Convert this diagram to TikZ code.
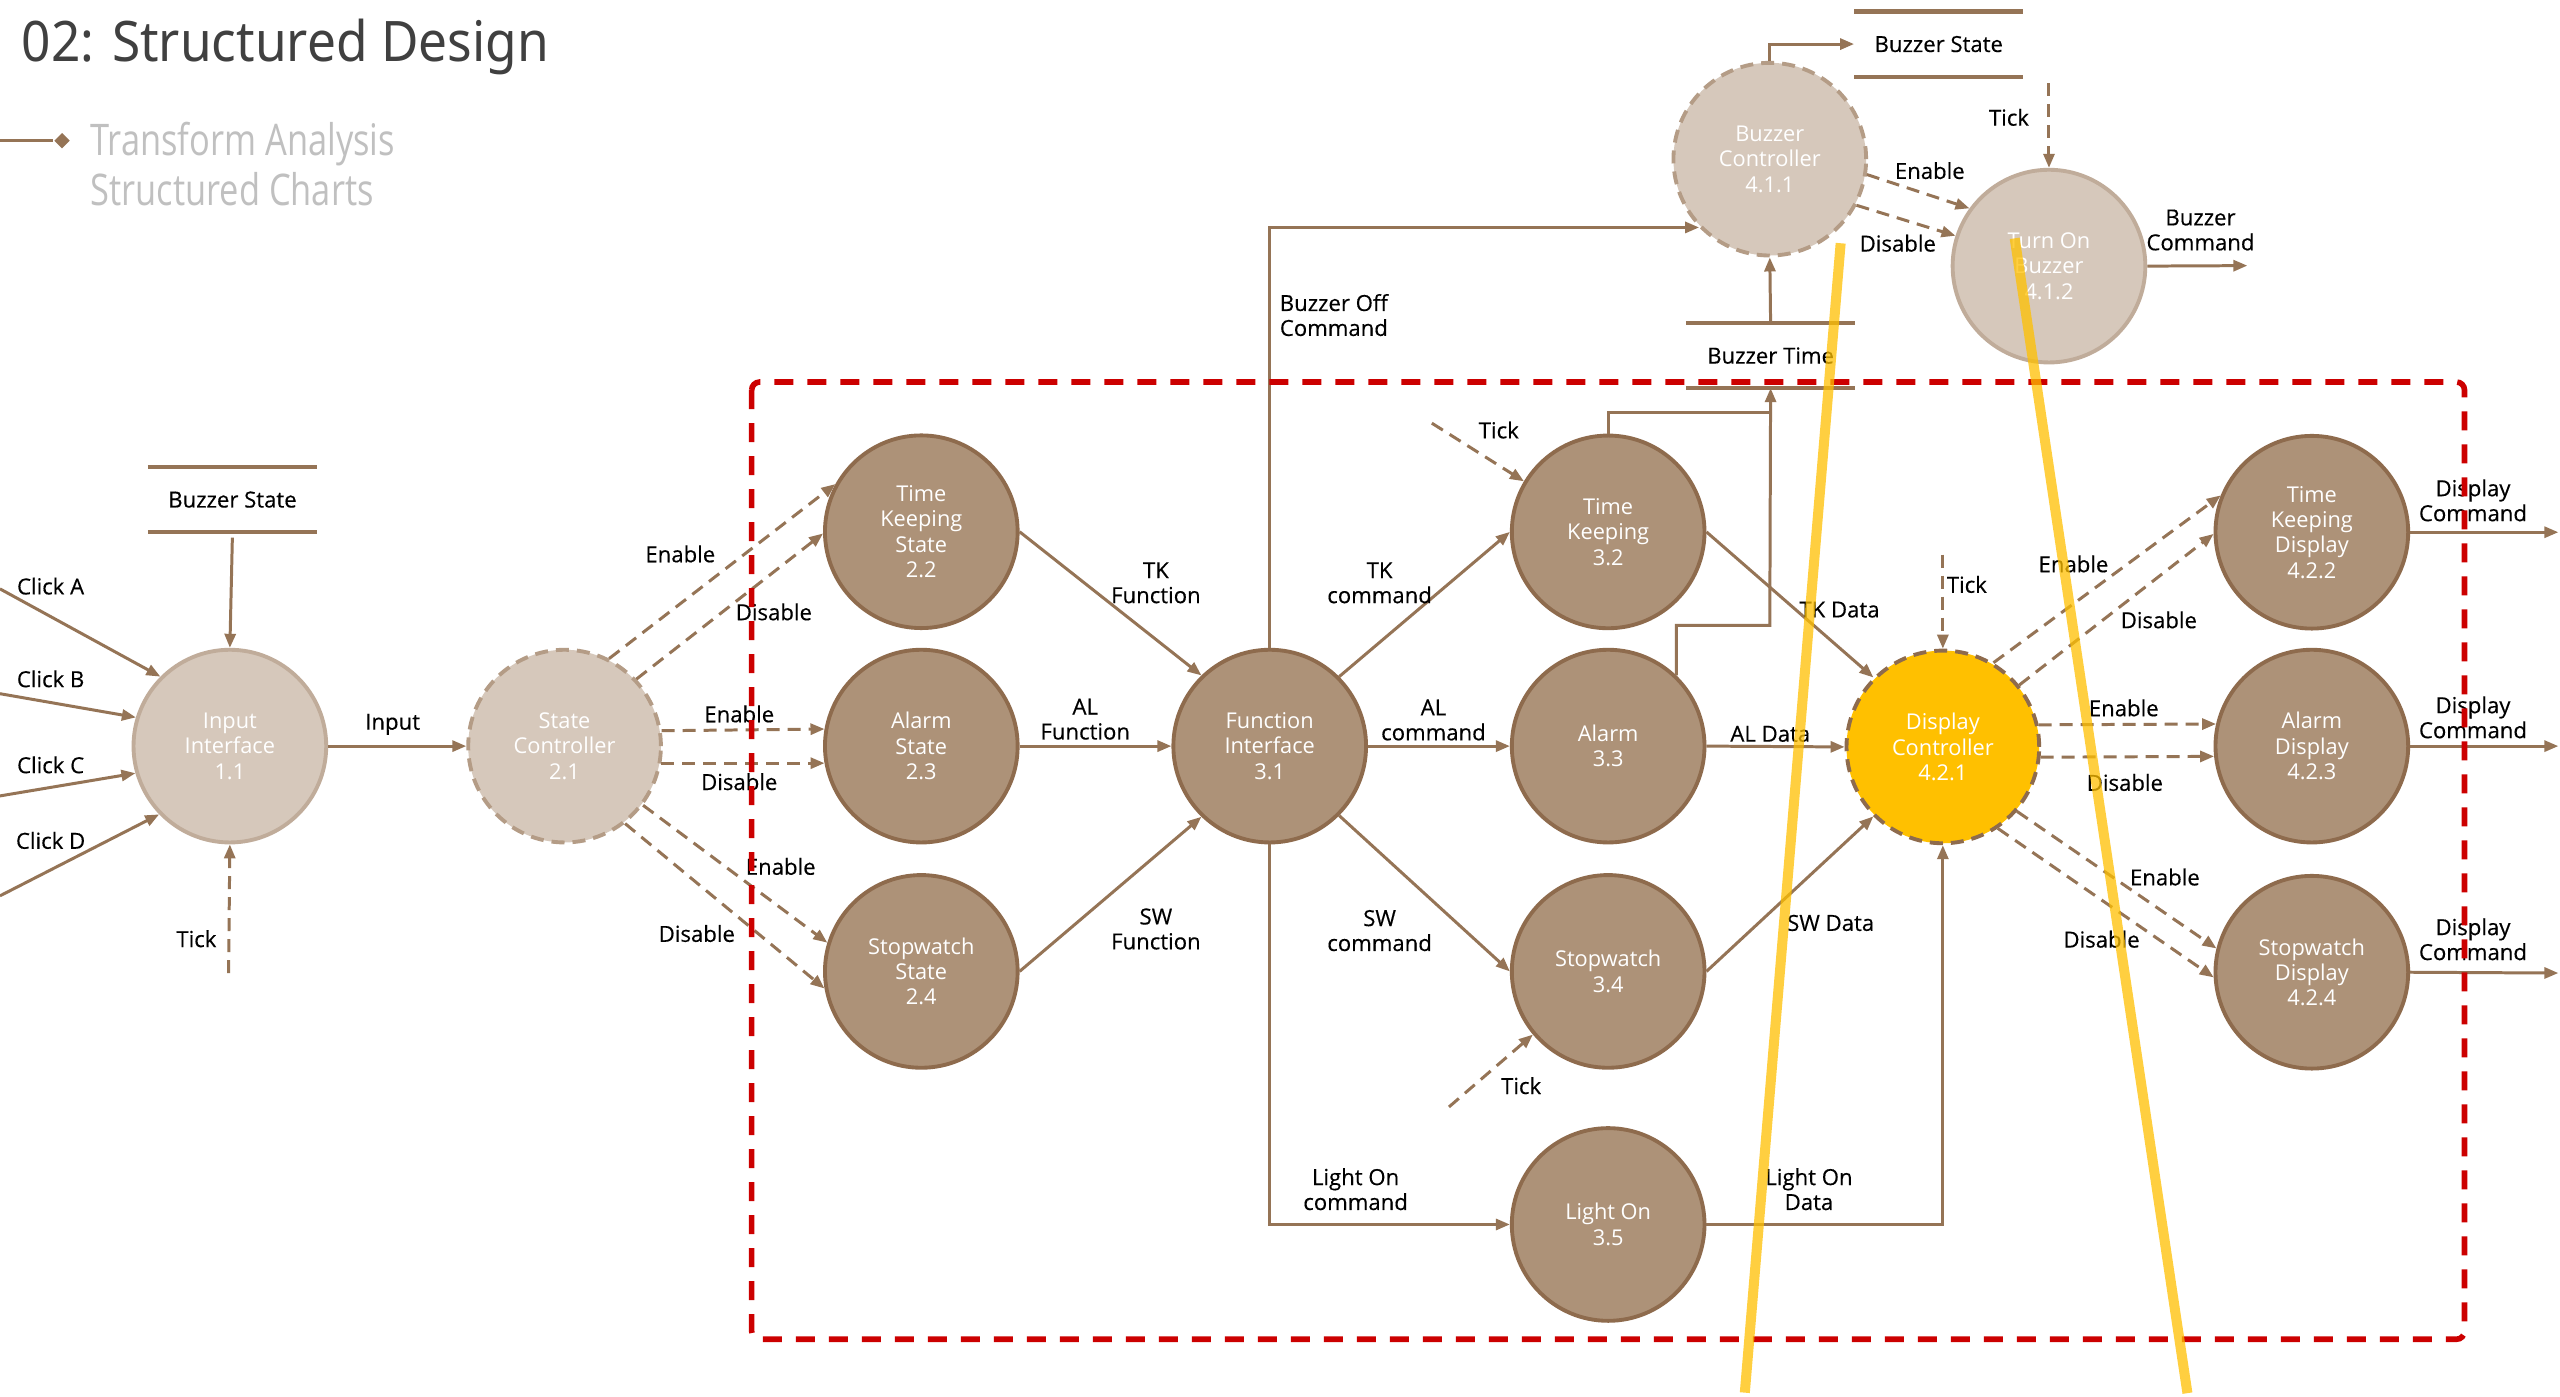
\documentclass[tikz,border=0pt]{standalone}
\usepackage{fontspec}
\setmainfont{Open Sans}
\newfontfamily\titlefamily[FakeStretch=0.92]{Noto Sans}
\newfontfamily\legendfamily[FakeStretch=0.79]{Open Sans}
\newfontfamily\lblfamily[FakeBold=0.35]{Open Sans}
\usetikzlibrary{arrows.meta,shapes.geometric}
\definecolor{lineC}{HTML}{957456}
\definecolor{darkfill}{HTML}{AD9278}
\definecolor{darkborder}{HTML}{8E6B4D}
\definecolor{lightfill}{HTML}{D6C8BB}
\definecolor{lightborder}{HTML}{C0AC9A}
\definecolor{lightdash}{HTML}{B49C86}
\definecolor{redC}{HTML}{CC0000}
\definecolor{hiC}{HTML}{FFC000}
\definecolor{titleC}{HTML}{404040}
\definecolor{legendC}{HTML}{C0C0C0}
\newcommand\myNodeFont{\fontsize{6.2pt}{7.2pt}\selectfont}
\newcommand\myLblFont{\lblfamily\fontsize{6.3pt}{7.1pt}\selectfont}
\newcommand\lab[3]{\node[lbl] (#1) at (#2) {#3};}
\begin{document}
\begin{tikzpicture}[x=0.16327mm,y=-0.16327mm,
  proc/.style={circle, minimum size=19.27mm, inner sep=0pt, align=center, text=white, font=\myNodeFont, line width=1.1pt},
  darkp/.style={proc, fill=darkfill, draw=darkborder},
  lightp/.style={proc, fill=lightfill, draw=lightborder},
  lightdp/.style={proc, fill=lightfill, draw=lightdash, dash pattern=on 1.3mm off 0.8mm},
  hip/.style={proc, fill=hiC, draw=darkborder, dash pattern=on 1.3mm off 0.8mm},
  conn/.style={draw=lineC, line width=0.85pt},
  flow/.style={conn, -{Triangle[length=1.4mm,width=1.1mm]}},
  dflow/.style={flow, dash pattern=on 1.3mm off 0.8mm},
  lbl/.style={font=\myLblFont, align=center, inner sep=0pt, text=black},
  storebox/.style={minimum width=16.8mm, minimum height=6.37mm, inner sep=0pt, font=\myLblFont, text=black},
  storeline/.style={draw=lineC, line width=1.2pt},
  redbox/.style={draw=redC, line width=1.6pt, dash pattern=on 1.9mm off 1.4mm, rounded corners=0.8mm},
  hiline/.style={draw=hiC, opacity=0.75, line width=1mm}
]
\fill[white] (0,0) rectangle (1568,855.6);
\useasboundingbox (0,0) rectangle (1568,855.6);

% title and legend
\node[anchor=base west, inner sep=0pt, text=titleC, font=\titlefamily\fontsize{15.9pt}{18pt}\selectfont] (title) at (12.9,37.8) {02: Structured Design};
\node[diamond, fill=lineC, inner sep=0pt, minimum size=1.6mm] (legdia) at (38,86.2) {};
\coordinate (legstart) at (0,86.2);
\draw[lineC, line width=1pt] (legstart) -- (legdia);
\node[anchor=base west, inner sep=0pt, text=legendC, font=\legendfamily\fontsize{12.4pt}{14pt}\selectfont] (leg1) at (55,95) {Transform Analysis};
\node[anchor=base west, inner sep=0pt, text=legendC, font=\legendfamily\fontsize{12.4pt}{14pt}\selectfont] (leg2) at (55,125.6) {Structured Charts};

% processes
\node[lightp] (ii) at (140.8,457) {Input\\Interface\\1.1};
\node[lightdp] (sc) at (345.8,457) {State\\Controller\\2.1};
\node[darkp] (tks) at (564.3,325.7) {Time\\Keeping\\State\\2.2};
\node[darkp] (als) at (564.3,457) {Alarm\\State\\2.3};
\node[darkp] (sws) at (564.3,595) {Stopwatch\\State\\2.4};
\node[darkp] (fi) at (777.7,457) {Function\\Interface\\3.1};
\node[darkp] (tk) at (985,325.8) {Time\\Keeping\\3.2};
\node[darkp] (al) at (985,457) {Alarm\\3.3};
\node[darkp] (sw) at (985,595) {Stopwatch\\3.4};
\node[darkp] (lo) at (985,750) {Light On\\3.5};
\node[hip] (dc) at (1190,457.5) {Display\\Controller\\4.2.1};
\node[darkp] (tkd) at (1416,326) {Time\\Keeping\\Display\\4.2.2};
\node[darkp] (ald) at (1416,457) {Alarm\\Display\\4.2.3};
\node[darkp] (swd) at (1416,595.5) {Stopwatch\\Display\\4.2.4};
\node[lightdp] (bc) at (1084,97.5) {Buzzer\\Controller\\4.1.1};
\node[lightp] (tob) at (1255,163) {Turn On\\Buzzer\\4.1.2};

% data stores
\node[storebox] (bs1) at (142.4,306) {Buzzer State};
\node[storebox] (bs2) at (1187.5,27) {Buzzer State};
\node[storebox] (bt) at (1084.5,217.8) {Buzzer Time};
\foreach \s in {bs1,bs2,bt}{
  \draw[storeline] (\s.north west) -- (\s.north east);
  \draw[storeline] (\s.south west) -- (\s.south east);
}

% inputs to Input Interface
\coordinate (ca) at (0,360.7);
\coordinate (cb) at (0,424.9);
\coordinate (cc) at (0,487.5);
\coordinate (cd) at (0,548.7);
\coordinate (iitick) at (140,596);
\draw[flow] (ca) -- (ii.135);
\draw[flow] (cb) -- (ii.163.4);
\draw[flow] (cc) -- (ii.196);
\draw[flow] (cd) -- (ii.224);
\draw[dflow] (iitick) -- (ii.south);
\draw[flow, shorten <=0.55mm] (bs1.south) -- (ii.north);
\draw[flow] (ii.east) -- (sc.west);

% state controller outputs
\draw[dflow] (sc.63) -- (tks.151);
\draw[dflow] (sc.43.7) -- (tks.181);
\draw[dflow] (sc.9.75) -- (als.170.25);
\draw[dflow] (sc.-10.7) -- (als.190.7);
\draw[dflow] (sc.-37) -- (sws.163);
\draw[dflow] (sc.-52) -- (sws.190.5);

% to function interface
\draw[flow] (tks.east) -- (fi.134);
\draw[flow] (als.east) -- (fi.west);
\draw[flow] (sws.east) -- (fi.226);

% function interface outputs
\draw[flow] (fi.45) -- (tk.west);
\draw[flow] (fi.east) -- (al.west);
\draw[flow] (fi.-45) -- (sw.west);
\draw[flow] (fi.south) |- (lo.west);
\draw[flow] (fi.north) |- (bc.224);

% ticks
\coordinate (tktick) at (877,259.2);
\coordinate (swtick) at (887.5,678);
\coordinate (dctick) at (1190,339.7);
\coordinate (tobtick) at (1255,51);
\draw[dflow] (tktick) -- (tk.149.5);
\draw[dflow] (swtick) -- (sw.220);
\draw[dflow] (dctick) -- (dc.north);
\draw[dflow] (tobtick) -- (tob.north);

% buzzer time
\coordinate (tkj) at (1084,252.5);
\coordinate (alj) at (1084,383);
\draw[conn] (tk.north) |- (tkj);
\draw[flow] (al.46) |- (alj) -- (bt.south);
\draw[flow] (bt.north) -- (bc.south);
\draw[flow] (bc.north) |- (bs2.west);
\draw[dflow] (bc.-9.3) -- (tob.144.5);
\draw[dflow] (bc.-28.5) -- (tob.162.7);
\coordinate (bcmd) at (1376.5,162.7);
\draw[flow] (tob.east) -- (bcmd);

% to display controller
\draw[flow] (tk.east) -- (dc.135);
\draw[flow] (al.east) -- (dc.west);
\draw[flow] (sw.east) -- (dc.225);
\draw[flow] (lo.east) -| (dc.south);

% display controller outputs
\draw[dflow] (dc.59) -- (tkd.158.6);
\draw[dflow] (dc.39.6) -- (tkd.181);
\draw[dflow] (dc.13) -- (ald.167.5);
\draw[dflow] (dc.-6) -- (ald.186.7);
\draw[dflow] (dc.-41) -- (swd.166);
\draw[dflow] (dc.-56.4) -- (swd.183);
\coordinate (dcmd1) at (1567,326);
\coordinate (dcmd2) at (1567,457);
\coordinate (dcmd3) at (1567,596);
\draw[flow] (tkd.east) -- (dcmd1);
\draw[flow] (ald.east) -- (dcmd2);
\draw[flow] (swd.east) -- (dcmd3);

% labels
\lab{lca}{31,359}{Click A}
\lab{lcb}{31,415.8}{Click B}
\lab{lcc}{31,468.5}{Click C}
\lab{lcd}{31,514.8}{Click D}
\lab{ltick1}{120.3,575}{Tick}
\lab{linput}{240.5,443.7}{Input}
\lab{le1}{416.7,339.3}{Enable}
\lab{ld1}{474,374.8}{Disable}
\lab{le2}{452.8,437.3}{Enable}
\lab{ld2}{452.8,478.8}{Disable}
\lab{le3}{478.2,530.7}{Enable}
\lab{ld3}{426.8,571.8}{Disable}
\lab{ltkf}{708,357}{TK\\Function}
\lab{lalf}{664.7,440.5}{AL\\Function}
\lab{lswf}{708,569}{SW\\Function}
\lab{lboc}{817,193}{Buzzer Off\\Command}
\lab{ltkc}{845,357}{TK\\command}
\lab{lalc}{878,441}{AL\\command}
\lab{lswc}{845,570}{SW\\command}
\lab{lloc}{830.3,728.4}{Light On\\command}
\lab{ltick2}{918,263.4}{Tick}
\lab{ltick3}{931.7,665}{Tick}
\lab{ltkd}{1126.7,373.4}{TK Data}
\lab{lald}{1084.3,449.5}{AL Data}
\lab{lswd}{1121.3,565.3}{SW Data}
\lab{llod}{1108,728.4}{Light On\\Data}
\lab{ltick4}{1204.7,358}{Tick}
\lab{le4}{1270,345.4}{Enable}
\lab{ld4}{1322.3,379.7}{Disable}
\lab{le5}{1300.8,433.6}{Enable}
\lab{ld5}{1301.5,479.3}{Disable}
\lab{le6}{1326,537.2}{Enable}
\lab{ld6}{1287.2,575.3}{Disable}
\lab{ldc1}{1514.7,306.5}{Display\\Command}
\lab{ldc2}{1514.7,439.4}{Display\\Command}
\lab{ldc3}{1514.7,575.3}{Display\\Command}
\lab{ltick5}{1230.5,71.9}{Tick}
\lab{le7}{1182,104.5}{Enable}
\lab{ld7}{1162.4,149}{Disable}
\lab{lbcmd}{1347.8,140.9}{Buzzer\\Command}

% red dashed region
\draw[redbox] (460.4,234) rectangle (1509.5,820.3);

% yellow overlay strokes
\draw[hiline] (1127.4,149) -- (1068.7,853);
\draw[hiline] (1234,146) -- (1339.8,853.3);
\end{tikzpicture}
\end{document}
